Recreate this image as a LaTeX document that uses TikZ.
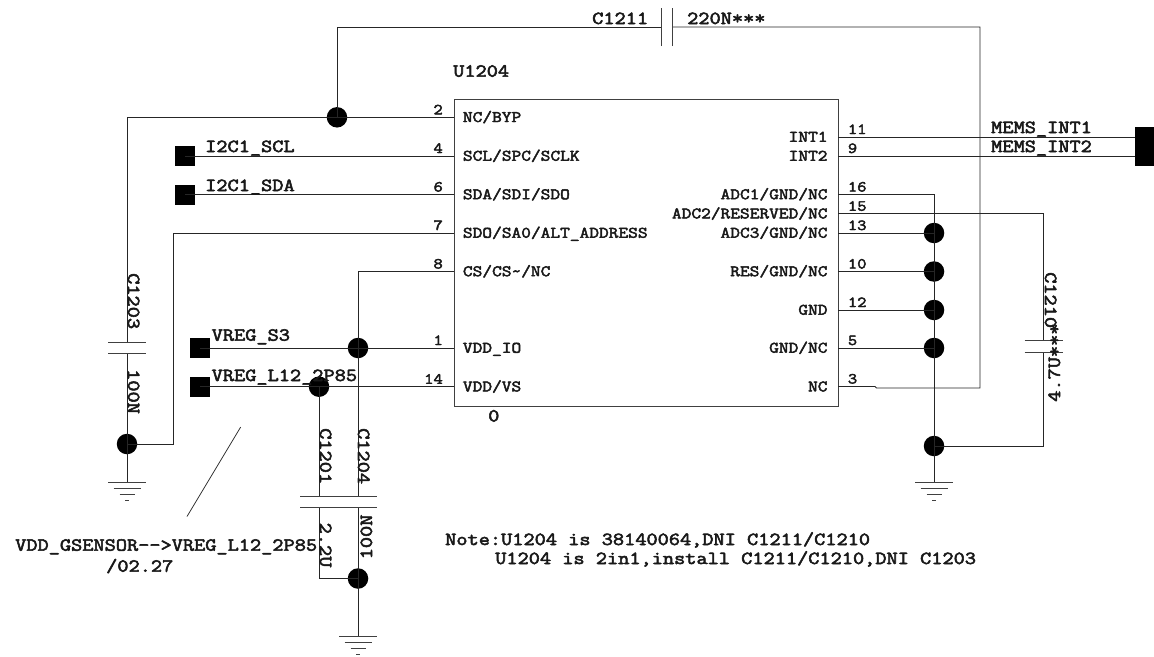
\documentclass[tikz,border=0pt]{standalone}
\usepackage{fontspec}
\setmainfont{Latin Modern Mono}[FakeStretch=1.18,FakeBold=3,Ligatures=NoCommon]
\tikzset{
  wire/.style={draw=black!85,line width=0.9pt},
  plate/.style={draw=black!75,line width=1pt},
  dot/.style={circle,fill=black,inner sep=0pt,minimum size=20.5pt},
  term/.style={rectangle,fill=black,inner sep=0pt,minimum size=20pt},
  bigt/.style={inner sep=0pt,font=\fontsize{18.4}{20}\selectfont,text=black!90},
  pint/.style={inner sep=0pt,font=\fontsize{16}{18}\selectfont,text=black!90},
  numt/.style={inner sep=0pt,font=\fontsize{15.3}{18}\selectfont,text=black!90},
  chip/.style={draw=black!75,line width=0.9pt}
}
\begin{document}
\begin{tikzpicture}[x=1pt,y=-1pt]
\useasboundingbox (0,0) rectangle (1154,656);
% chip
\node[chip,rectangle,inner sep=0pt,minimum width=384pt,minimum height=307pt] (u) at (646,252.5) {};
\foreach \n/\y in {p2/117.3,p4/156,p6/194.5,p7/233,p8/271.5,p1/348,p14/386.7}
  \coordinate (\n) at (454,\y);
\foreach \n/\y in {p11/137,p9/156,p16/194.5,p15/213.7,p13/233,p10/271.5,p12/310,p5/348,p3/386.5}
  \coordinate (\n) at (838,\y);
% terminals
\node[term] (scl) at (185,156) {};
\node[term] (sda) at (185,194.5) {};
\node[term] (s3) at (200,348) {};
\node[term] (l12) at (200,386.7) {};
\node[term,minimum width=19pt,minimum height=39pt] (mems) at (1144.5,146.5) {};
% junction dots
\node[dot] (jbyp) at (337,117.3) {};
\node[dot] (jc1203) at (127,444) {};
\node[dot] (jio) at (358,348) {};
\node[dot] (jvs) at (319,386.7) {};
\node[dot] (jbot) at (358,578.5) {};
\node[dot] (j13) at (934,233) {};
\node[dot] (j10) at (934,271.5) {};
\node[dot] (j12) at (934,310) {};
\node[dot] (j5) at (934,348) {};
\node[dot] (jgnd) at (934,446) {};
% helper coordinates
\coordinate (tl) at (337,27);
\coordinate (c11a) at (661,27);
\coordinate (c11b) at (672.7,27);
\coordinate (tr) at (980,27);
\coordinate (br) at (980,388);
\coordinate (st1) at (876.5,388);
\coordinate (st2) at (875,386.5);
\coordinate (bypl) at (127,117.3);
\coordinate (c03a) at (127,342.5);
\coordinate (c03b) at (127,353.5);
\coordinate (g1) at (127,482.7);
\coordinate (sdol) at (173,233);
\coordinate (sdob) at (173,444);
\coordinate (csl) at (358,271.5);
\coordinate (c04a) at (358,496);
\coordinate (c04b) at (358,507.5);
\coordinate (c01a) at (319,496);
\coordinate (c01b) at (319,507.5);
\coordinate (c01c) at (319,578.5);
\coordinate (g2) at (358,636.5);
\coordinate (n16) at (934,194.5);
\coordinate (g3) at (934,482.7);
\coordinate (r15) at (1043.5,213.7);
\coordinate (c10a) at (1043.5,340);
\coordinate (c10b) at (1043.5,352);
\coordinate (r15b) at (1043.5,446);
\coordinate (slasha) at (240.7,427);
\coordinate (slashb) at (187,516.5);
\coordinate (mi1) at (1135,137);
\coordinate (mi2) at (1135,156);
% wires
\draw[wire] (jbyp.center) -- (tl) -- (c11a);
\draw[wire] (c11b) -- (tr) -- (br) -- (st1) -- (st2) -- (p3);
\draw[wire] (p2) -- (bypl) -- (c03a);
\draw[wire] (c03b) -- (g1);
\draw[wire] (scl.center) -- (p4);
\draw[wire] (sda.center) -- (p6);
\draw[wire] (p7) -- (sdol) -- (sdob) -- (jc1203.center);
\draw[wire] (p8) -- (csl) -- (c04a);
\draw[wire] (c04b) -- (g2);
\draw[wire] (s3.center) -- (p1);
\draw[wire] (l12.center) -- (p14);
\draw[wire] (jvs.center) -- (c01a);
\draw[wire] (c01b) -- (c01c) -- (jbot.center);
\draw[wire] (p11) -- (mi1);
\draw[wire] (p9) -- (mi2);
\draw[wire] (p16) -- (n16) -- (g3);
\draw[wire] (p15) -- (r15) -- (c10a);
\draw[wire] (c10b) -- (r15b) -- (jgnd.center);
\draw[wire] (p13) -- (j13.center);
\draw[wire] (p10) -- (j10.center);
\draw[wire] (p12) -- (j12.center);
\draw[wire] (p5) -- (j5.center);
\draw[wire,line width=0.7pt] (slasha) -- (slashb);
% capacitor plates
\draw[plate] ([yshift=-19pt]c11a) -- ([yshift=19pt]c11a);
\draw[plate] ([yshift=-19pt]c11b) -- ([yshift=19pt]c11b);
\draw[plate] ([xshift=-19pt]c03a) -- ([xshift=19pt]c03a);
\draw[plate] ([xshift=-19pt]c03b) -- ([xshift=19pt]c03b);
\draw[plate] ([xshift=-19pt]c01a) -- ([xshift=19pt]c04a);
\draw[plate] ([xshift=-19pt]c01b) -- ([xshift=19pt]c04b);
\draw[plate] ([xshift=-19pt]c10a) -- ([xshift=19pt]c10a);
\draw[plate] ([xshift=-19pt]c10b) -- ([xshift=19pt]c10b);
% grounds
\foreach \g in {g1,g2,g3}{
  \draw[plate] ([xshift=-19pt]\g) -- ([xshift=19pt]\g);
  \draw[plate] ([xshift=-13.5pt,yshift=-5.8pt]\g) -- ([xshift=13.5pt,yshift=-5.8pt]\g);
  \draw[plate] ([xshift=-7.5pt,yshift=-11.5pt]\g) -- ([xshift=7.5pt,yshift=-11.5pt]\g);
  \draw[plate] ([xshift=-2pt,yshift=-17.5pt]\g) -- ([xshift=2pt,yshift=-17.5pt]\g);
}
% chip text
\node[bigt,anchor=base west] (tu) at (453,76.7) {U1204};
\node[bigt,anchor=base west] (t0) at (488,421.5) {0};
\foreach \n/\t/\y in {a/NC\slash BYP/117.3,b/SCL\slash SPC\slash SCLK/156,c/SDA\slash SDI\slash SDO/194.5,d/SDO\slash SA0\slash ALT\_ADDRESS/233,e/CS\slash CS\textasciitilde\slash NC/271.5,f/VDD\_IO/348,g/VDD\slash VS/386.7}
  \node[pint,anchor=base west] (l\n) at (462.7,\y+4.7) {\t};
\foreach \n/\t/\y in {a/INT1/137,b/INT2/156,c/ADC1\slash GND\slash NC/194.5,d/ADC2\slash RESERVED\slash NC/213.7,e/ADC3\slash GND\slash NC/233,f/RES\slash GND\slash NC/271.5,g/GND/310,h/GND\slash NC/348,i/NC/386.7}
  \node[pint,anchor=base east] (r\n) at (827.7,\y+4.7) {\t};
\foreach \n/\t/\y in {a/2/117.3,b/4/156,c/6/194.5,d/7/233,e/8/271.5,f/1/348,g/14/386.7}
  \node[numt,anchor=base east] (nl\n) at (443,\y-3) {\t};
\foreach \n/\t/\y in {a/11/137,b/9/156,c/16/194.5,d/15/213.7,e/13/233,f/10/271.5,g/12/310,h/5/348,i/3/386.5}
  \node[numt,anchor=base west] (nr\n) at (847.7,\y-3) {\t};
% net labels
\node[bigt,anchor=base west] (tscl) at (205,152) {I2C1\_SCL};
\node[bigt,anchor=base west] (tsda) at (205,191) {I2C1\_SDA};
\node[bigt,anchor=base west] (ts3) at (211.5,340.7) {VREG\_S3};
\node[bigt,anchor=base west] (tl12) at (211.5,381) {VREG\_L12\_2P85};
\node[bigt,anchor=base west] (tm1) at (991,133) {MEMS\_INT1};
\node[bigt,anchor=base west] (tm2) at (991,152) {MEMS\_INT2};
\node[bigt,anchor=base west] (tc11) at (592,24) {C1211};
\node[bigt,anchor=base west] (tv11) at (687,24) {220N***};
% rotated labels
\node[bigt,anchor=base west,rotate=-90] (tc03) at (128,273) {C1203};
\node[bigt,anchor=base west,rotate=-90] (tv03) at (128,369) {100N};
\node[bigt,anchor=base west,rotate=-90] (tc01) at (320,428) {C1201};
\node[bigt,anchor=base west,rotate=-90] (tc04) at (358,428) {C1204};
\node[bigt,anchor=base west,rotate=-90] (tv01) at (320,522.5) {2.2U};
\node[bigt,anchor=base west,rotate=90] (tv04) at (372,559.5) {100N};
\node[bigt,anchor=base west,rotate=-90] (tc10) at (1045,272) {C1210};
\node[bigt,anchor=base west,rotate=90] (tv10) at (1060,402) {4.7U***};
% notes
\node[bigt,anchor=base west] (tn1) at (15,550.7) {VDD\_GSENSOR{-}{-}>VREG\_L12\_2P85};
\node[bigt,anchor=base west] (tn2) at (106,571.7) {\slash 02.27};
\node[bigt,anchor=base west] (tn3) at (445,545) {Note:U1204 is 38140064,DNI C1211\slash C1210};
\node[bigt,anchor=base west] (tn4) at (495,564) {U1204 is 2in1,install C1211\slash C1210,DNI C1203};
\end{tikzpicture}
\end{document}
